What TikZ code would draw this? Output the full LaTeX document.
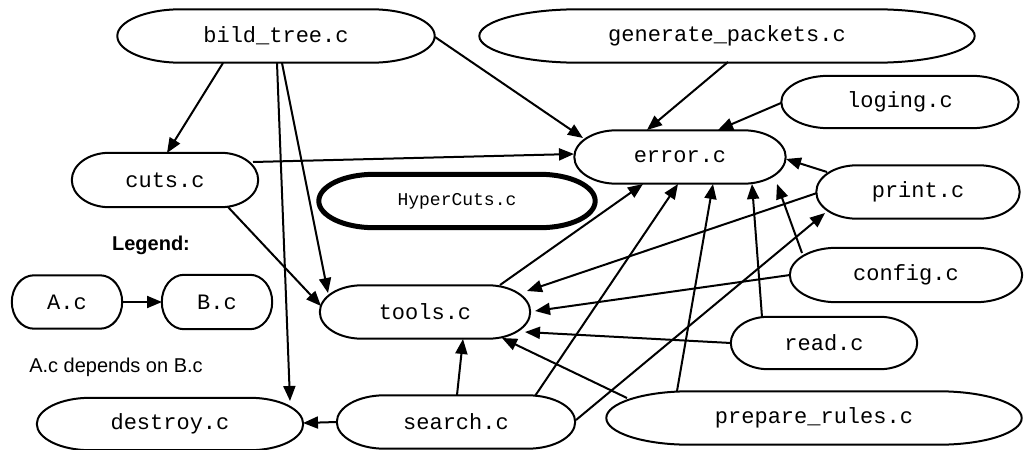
\documentclass[tikz,border=0pt]{standalone}
\usepackage{fontspec}
\setmainfont{Liberation Sans}
\setmonofont{Liberation Mono}
\usetikzlibrary{calc,arrows.meta}
\newcommand\capsule[2][]{%
  \draw[line width=2pt,#1] let \p1=(#2.north west), \p2=(#2.south east),
    \n1={(\x2-\x1)*0.2}, \n2={(\y1-\y2)/2} in
    (\x1+\n1,\y1) -- (\x2-\n1,\y1)
    arc[start angle=90,end angle=-90,x radius=\n1,y radius=\n2]
    -- (\x1+\n1,\y2)
    arc[start angle=270,end angle=90,x radius=\n1,y radius=\n2] -- cycle;}
\begin{document}
\begin{tikzpicture}[x=1pt,y=-1pt,
  file/.style={rectangle, inner sep=0pt,
    font=\fontsize{22}{26}\selectfont\ttfamily},
  arr/.style={line width=2pt, -{Triangle[length=15pt,width=12pt]}},
  lbl/.style={inner sep=0pt, font=\fontsize{20}{24}\selectfont},
]
\useasboundingbox (0,0) rectangle (1026,450);
\fill[white] (0,0) rectangle (1026,450);

\node[file, minimum width=317pt, minimum height=53pt] (bild) at (276,36) {bild\_tree.c};
\node[file, minimum width=495pt, minimum height=53pt] (gen) at (727,36) {generate\_packets.c};
\node[file, minimum width=237pt, minimum height=52pt] (log) at (900,102) {loging.c};
\node[file, minimum width=211pt, minimum height=53pt] (err) at (680,157) {error.c};
\node[file, minimum width=203pt, minimum height=53pt] (prt) at (918,192) {print.c};
\node[file, minimum width=186pt, minimum height=54pt] (cuts) at (165,180) {cuts.c};
\node[file, minimum width=276pt, minimum height=53pt,
  font=\fontsize{18}{22}\selectfont\ttfamily] (hyp) at (457,201) {HyperCuts.c};
\node[file, minimum width=110pt, minimum height=53pt] (A) at (67,302) {A.c};
\node[file, minimum width=110pt, minimum height=54pt] (B) at (217,302) {B.c};
\node[file, minimum width=210pt, minimum height=53pt] (tools) at (425,312) {tools.c};
\node[file, minimum width=266pt, minimum height=52pt] (destroy) at (170,424) {destroy.c};
\node[file, minimum width=238pt, minimum height=53pt] (search) at (456,422) {search.c};
\node[file, minimum width=232pt, minimum height=54pt] (config) at (906,275) {config.c};
\node[file, minimum width=186pt, minimum height=52pt] (read) at (824,343) {read.c};
\node[file, minimum width=415pt, minimum height=53pt] (prep) at (814,418) {prepare\_rules.c};

\foreach \nm in {bild,gen,log,err,prt,cuts,A,B,tools,destroy,search,config,read,prep}
  {\capsule{\nm}}
\capsule[line width=5pt]{hyp}

\node[lbl, font=\fontsize{20}{24}\selectfont\bfseries] (legend) at (151,245) {Legend:};
\node[lbl] (note) at (116,367) {A.c depends on B.c};

\draw[arr] ([shift={(55,0)}]A.center) -- ([shift={(-55,0)}]B.center);

\draw[arr] ([shift={(-53,27)}]bild.center) -- ([shift={(2,-27)}]cuts.center);
\draw[arr] ([shift={(159,1)}]bild.center) -- ([shift={(-97,-19)}]err.center);
\draw[arr] ([shift={(6,27)}]bild.center) -- ([shift={(-97,-19)}]tools.center);
\draw[arr] ([shift={(1,27)}]bild.center) -- ([shift={(120,-23)}]destroy.center);
\draw[arr] ([shift={(1,26)}]gen.center) -- ([shift={(-33,-27)}]err.center);
\draw[arr] ([shift={(-119,1)}]log.center) -- ([shift={(38,-27)}]err.center);
\draw[arr] ([shift={(88,-18)}]cuts.center) -- ([shift={(-106,-3)}]err.center);
\draw[arr] ([shift={(63,27)}]cuts.center) -- ([shift={(-104,-6)}]tools.center);
\draw[arr] ([shift={(-91,-20)}]prt.center) -- ([shift={(106,2)}]err.center);
\draw[arr] ([shift={(-101,1)}]prt.center) -- ([shift={(102,-21)}]tools.center);
\draw[arr] ([shift={(-104,-22)}]config.center) -- ([shift={(97,27)}]err.center);
\draw[arr] ([shift={(-116,0)}]config.center) -- ([shift={(110,-1)}]tools.center);
\draw[arr] ([shift={(-62,-26)}]read.center) -- ([shift={(72,27)}]err.center);
\draw[arr] ([shift={(-93,0)}]read.center) -- ([shift={(100,20)}]tools.center);
\draw[arr] ([shift={(-137,-27)}]prep.center) -- ([shift={(33,27)}]err.center);
\draw[arr] ([shift={(-187,-20)}]prep.center) -- ([shift={(77,26)}]tools.center);
\draw[arr] ([shift={(79,-26)}]search.center) -- ([shift={(-2,27)}]err.center);
\draw[arr] ([shift={(1,-27)}]search.center) -- ([shift={(38,27)}]tools.center);
\draw[arr] ([shift={(-119,0)}]search.center) -- ([shift={(133,-1)}]destroy.center);
\draw[arr] ([shift={(120,-2)}]search.center) -- ([shift={(-93,21)}]prt.center);
\draw[arr] ([shift={(75,-27)}]tools.center) -- ([shift={(-37,27)}]err.center);
\end{tikzpicture}
\end{document}
